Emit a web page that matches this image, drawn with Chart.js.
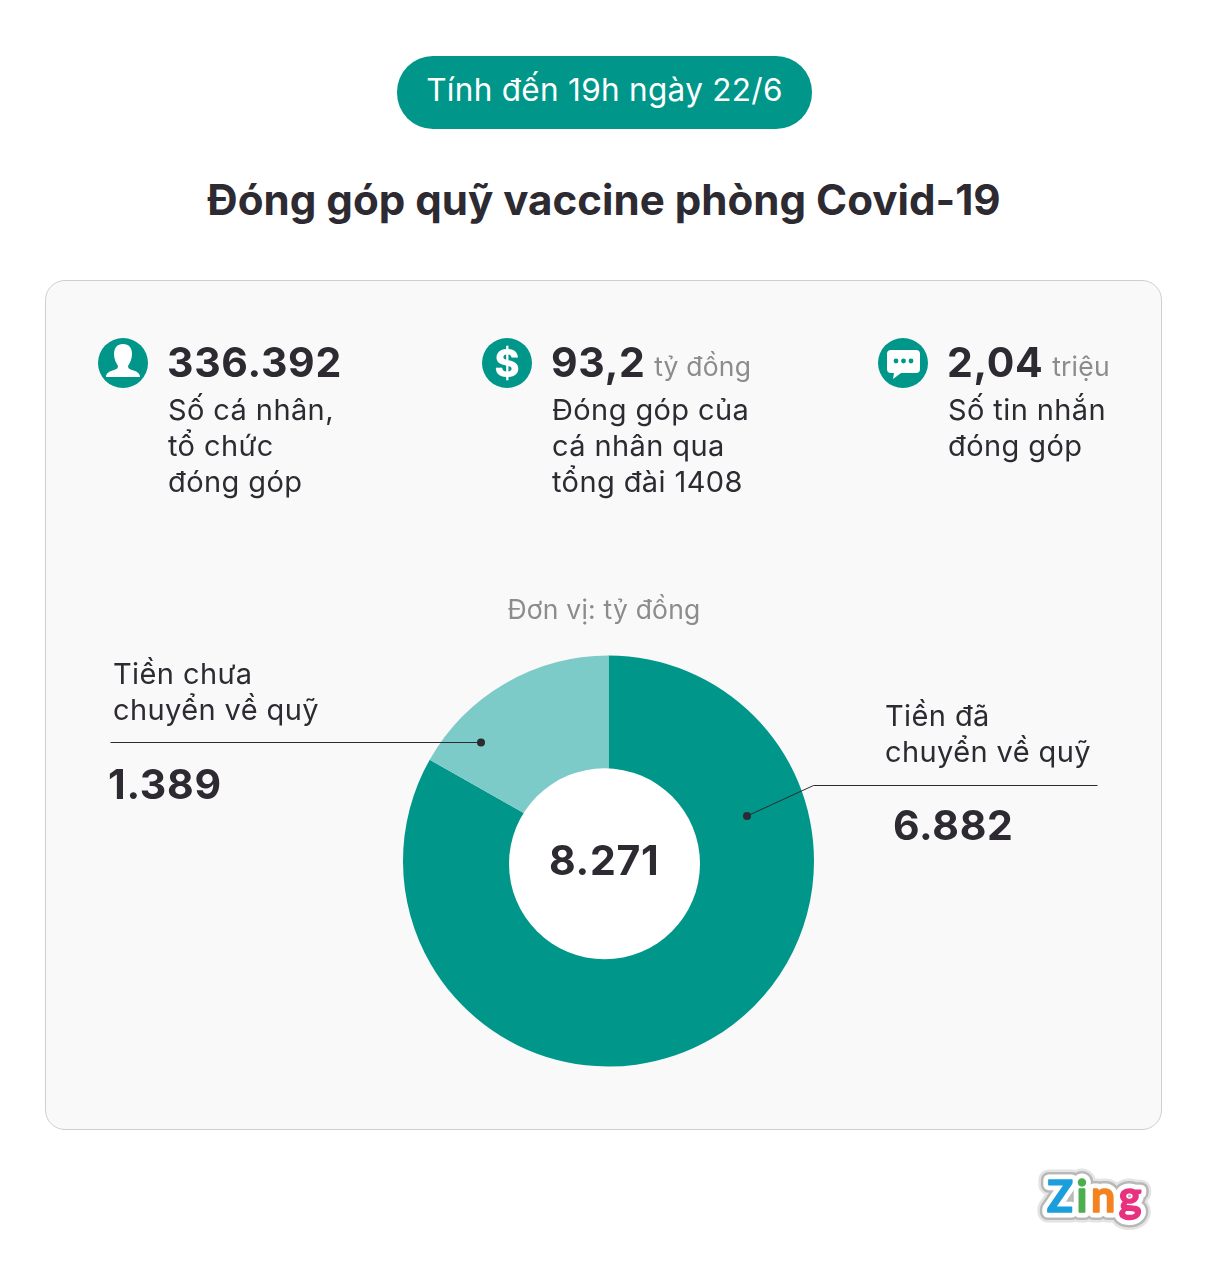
<!DOCTYPE html>
<html lang="vi">
<head>
<meta charset="utf-8">
<title>Đóng góp quỹ vaccine phòng Covid-19</title>
<script src="https://cdn.jsdelivr.net/npm/chart.js@4"></script>
<style>
  html, body { margin: 0; padding: 0; background: #fff; }
  body { position: relative; width: 1208px; height: 1263px; overflow: hidden; font-family: Inter, sans-serif; color: #2d2a32; }
  .abs { position: absolute; white-space: nowrap; }
  #pill { left: 397px; top: 56px; width: 415px; height: 73px; border-radius: 36px; background: #00968a; color: #fff; font-size: 31.5px; line-height: 67px; text-align: center; letter-spacing: .3px; }
  #title { left: 0; width: 1208px; top: 174px; text-align: center; font-size: 42.1px; font-weight: 700; line-height: 52px; }
  #card { left: 45px; top: 280px; width: 1115px; height: 848px; border: 1px solid #cfcfcf; border-radius: 20px; background: #f9f9f9; }
  canvas { position: absolute; left: 0; top: 0; }
  .big { font-size: 41px; font-weight: 700; line-height: 50px; letter-spacing: .7px; }
  .unit { font-size: 26.5px; font-weight: 400; color: #8c8c8c; letter-spacing: .2px; position: relative; top: -1px; margin-left: 1px; }
  .desc { font-size: 29px; line-height: 36px; letter-spacing: .4px; white-space: pre-line; }
  .icon { width: 50px; height: 50px; }
</style>
</head>
<body>
<div class="abs" id="pill">Tính đến 19h ngày 22/6</div>
<div class="abs" id="title">Đóng góp quỹ vaccine phòng Covid-19</div>
<div class="abs" id="card"></div>
<canvas id="donut" width="1208" height="1263"></canvas>

<svg class="abs icon" style="left:98px;top:338px" viewBox="0 0 50 50">
  <circle cx="25" cy="25" r="25" fill="#00968a"/>
  <path d="M25 6c6 0 9 4 9 10 0 5-2 9-4 12 0 2 1 3 4 4 4 1 8 3 8 7H8c0-4 4-6 8-7 3-1 4-2 4-4-2-3-4-7-4-12 0-6 3-10 9-10z" fill="#fff"/>
</svg>
<svg class="abs icon" style="left:482px;top:338px" viewBox="0 0 50 50">
  <circle cx="25" cy="25" r="25" fill="#00968a"/>
  <text x="25" y="38.5" text-anchor="middle" font-family="Inter" font-weight="800" font-size="38" fill="#fff">$</text>
</svg>
<svg class="abs icon" style="left:878px;top:338px" viewBox="0 0 50 50">
  <circle cx="25" cy="25" r="25" fill="#00968a"/>
  <path d="M13 12h25a4 4 0 0 1 4 4v15a4 4 0 0 1-4 4H23l-8 6 1-6h-3a4 4 0 0 1-4-4V16a4 4 0 0 1 4-4z" fill="#fff"/>
  <circle cx="18" cy="23" r="2.4" fill="#00968a"/><circle cx="25.5" cy="23" r="2.4" fill="#00968a"/><circle cx="33" cy="23" r="2.4" fill="#00968a"/>
</svg>

<div class="abs big" style="left:167px;top:337px">336.392</div>
<div class="abs desc" style="left:168px;top:392px">Số cá nhân,
tổ chức
đóng góp</div>
<div class="abs big" style="left:551px;top:337px">93,2<span class="unit"> tỷ đồng</span></div>
<div class="abs desc" style="left:552px;top:392px">Đóng góp của
cá nhân qua
tổng đài 1408</div>
<div class="abs big" style="left:947px;top:337px">2,04<span class="unit"> triệu</span></div>
<div class="abs desc" style="left:948px;top:392px">Số tin nhắn
đóng góp</div>

<div class="abs" style="left:0;width:1208px;top:592px;text-align:center;font-size:26.5px;line-height:34px;color:#8c8c8c;letter-spacing:.2px">Đơn vị: tỷ đồng</div>

<div class="abs desc" style="left:113px;top:656px">Tiền chưa
chuyển về quỹ</div>
<div class="abs big" style="left:108px;top:759px">1.389</div>
<div class="abs desc" style="left:885px;top:698px">Tiền đã
chuyển về quỹ</div>
<div class="abs big" style="left:893px;top:800px">6.882</div>
<div class="abs big" style="left:549px;top:835px">8.271</div>

<svg class="abs" style="left:1030px;top:1165px" width="130" height="70" viewBox="0 0 130 70">
  <g font-family="Lato, 'Open Sans', sans-serif" font-weight="700" font-size="43" letter-spacing="3.5" stroke-linejoin="round">
    <text x="17" y="47" fill="none" stroke="#e4e4e4" stroke-width="21">Zing</text>
    <text x="17" y="47" fill="none" stroke="#b8b8b8" stroke-width="16">Zing</text>
    <text x="17" y="47" fill="#fff" stroke="#fff" stroke-width="11">Zing</text>
    <text x="17" y="47" stroke-width="1.5"><tspan fill="#1b9fdc" stroke="#1b9fdc">Z</tspan><tspan fill="#4cae4f" stroke="#4cae4f">i</tspan><tspan fill="#f58220" stroke="#f58220">n</tspan><tspan fill="#e8317f" stroke="#e8317f">g</tspan></text>
  </g>
</svg>

<script>
// Data
const categories = ["Tiền đã chuyển về quỹ", "Tiền chưa chuyển về quỹ"]
const amounts = [6882, 1389]
const sliceColors = ["#00968a", "#7ccbc8"]

// Leader lines, as offsets from the donut centre
const leaderLines = [
  [[-127.5, -118.5], [-498, -118.5]],
  [[138.5, -45], [205, -75.5], [489, -75.5]],
]

// The white hole sits a little off the ring's centre in the original
const holeOffset = [-4, 2.8]
const holeRadius = 95.5

const overlayPlugin = {
  id: "overlay",
  afterDatasetsDraw(chart) {
    const arc = chart.getDatasetMeta(0).data[0]
    const ctx = chart.ctx
    ctx.save()

    // Hole
    ctx.fillStyle = "#fff"
    ctx.beginPath()
    ctx.arc(arc.x + holeOffset[0], arc.y + holeOffset[1], holeRadius, 0, Math.PI * 2)
    ctx.fill()

    // Leader lines
    ctx.strokeStyle = "#2d2a32"
    ctx.fillStyle = "#2d2a32"
    ctx.lineWidth = 1
    leaderLines.forEach((points) => {
      ctx.beginPath()
      points.forEach(([dx, dy], i) => {
        if (i === 0) ctx.moveTo(arc.x + dx, arc.y + dy)
        else ctx.lineTo(arc.x + dx, arc.y + dy)
      })
      ctx.stroke()
      ctx.beginPath()
      ctx.arc(arc.x + points[0][0], arc.y + points[0][1], 4, 0, Math.PI * 2)
      ctx.fill()
    })
    ctx.restore()
  },
}

new Chart(document.getElementById("donut"), {
  type: "doughnut",
  data: {
    labels: categories,
    datasets: [{ data: amounts, backgroundColor: sliceColors, borderWidth: 0 }],
  },
  options: {
    responsive: false,
    animation: false,
    cutout: "40%",
    layout: { padding: { left: 403, right: 394, top: 655, bottom: 196 } },
    plugins: { legend: { display: false }, tooltip: { enabled: false } },
  },
  plugins: [overlayPlugin],
})
</script>
</body>
</html>
